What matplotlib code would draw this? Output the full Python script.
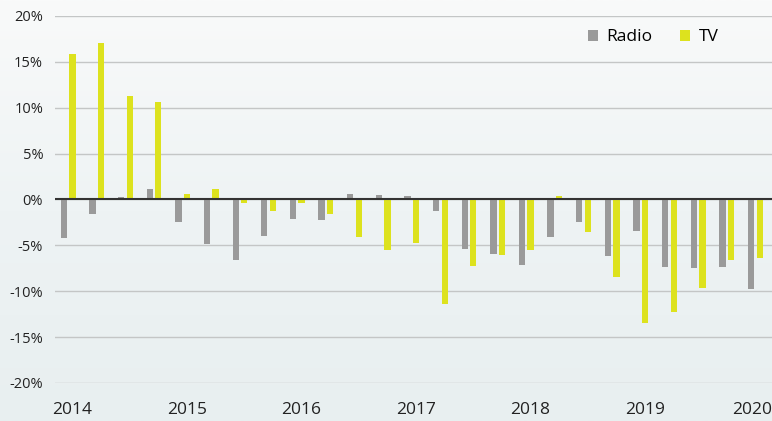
import matplotlib
matplotlib.use('Agg')
import matplotlib.pyplot as plt
import matplotlib.transforms as mtransforms
from matplotlib import font_manager
import numpy as np

# Open Sans, static regular cut
reg = [f.fname for f in font_manager.fontManager.ttflist if f.fname.endswith('OpenSans-Regular.ttf')]
if reg:
    font_manager.fontManager.addfont(reg[0])
    fp = font_manager.FontProperties(fname=reg[0])
else:
    fp = font_manager.FontProperties(family='Open Sans')
plt.rcParams['font.family'] = [fp.get_name(), 'DejaVu Sans']

# quarterly change, 2014 Q1 .. 2020 Q1
quarters = ['2014Q1', '2014Q2', '2014Q3', '2014Q4',
            '2015Q1', '2015Q2', '2015Q3', '2015Q4',
            '2016Q1', '2016Q2', '2016Q3', '2016Q4',
            '2017Q1', '2017Q2', '2017Q3', '2017Q4',
            '2018Q1', '2018Q2', '2018Q3', '2018Q4',
            '2019Q1', '2019Q2', '2019Q3', '2019Q4',
            '2020Q1']
radio = [-4.2, -1.6, 0.25, 1.1,
         -2.5, -4.9, -6.6, -4.0,
         -2.1, -2.2, 0.6, 0.45,
         0.4, -1.3, -5.4, -5.9,
         -7.1, -4.1, -2.5, -6.2,
         -3.4, -7.4, -7.5, -7.4,
         -9.8]
tv = [15.9, 17.1, 11.3, 10.6,
      0.55, 1.1, -0.4, -1.2,
      -0.35, -1.6, -4.1, -5.5,
      -4.7, -11.4, -7.3, -6.0,
      -5.5, 0.4, -3.5, -8.4,
      -13.5, -12.3, -9.7, -6.6,
      -6.4]
years = ['2014', '2015', '2016', '2017', '2018', '2019', '2020']
y_ticks = [20, 15, 10, 5, 0, -5, -10, -15, -20]

fig = plt.figure(figsize=(7.72, 4.21), dpi=100)

# faded background
bg = fig.add_axes([0, 0, 1, 1], zorder=-1)
grad = np.linspace(0, 1, 256).reshape(-1, 1)
cmap = matplotlib.colors.LinearSegmentedColormap.from_list(
    'bg', ['#f9fafa', '#eef3f4', '#e8eff0'])
bg.imshow(grad, aspect='auto', cmap=cmap, extent=[0, 1, 0, 1])
bg.axis('off')

ax = fig.add_axes([0.0712, 0.0903, 0.9288, 0.8717])
ax.patch.set_alpha(0)

x = np.arange(len(quarters))
w = 0.22
ax.bar(x - 0.15, radio, width=w, color='#9a9a9a', label='Radio', zorder=3)
ax.bar(x + 0.15, tv, width=w, color='#dde21e', label='TV', zorder=3)

ax.set_ylim(-20, 20)
ax.set_xlim(-0.46, 24.58)
ax.set_yticks(y_ticks)
ax.set_yticklabels([f'{v}%' for v in y_ticks], fontsize=10.5, color='#222222')
ax.yaxis.grid(True, color='#c4c6c6', linewidth=1)
ax.axhline(0, color='#333333', linewidth=1.5, zorder=4)

ax.set_xticks(x[::4] + 0.15)
ax.set_xticklabels(years, fontsize=12.5, color='#222222')
ax.tick_params(length=0)
ax.tick_params(axis='x', pad=14)
ax.tick_params(axis='y', pad=8.5)
last = ax.get_xticklabels()[-1]
last.set_transform(last.get_transform() + mtransforms.ScaledTranslation(-8 / 100, 0, fig.dpi_scale_trans))

for s in ax.spines.values():
    s.set_visible(False)

ax.legend(loc='upper right', bbox_to_anchor=(0.947, 1.006), ncol=2, frameon=False,
          fontsize=12.5, handlelength=0.55, handleheight=0.55, handletextpad=0.5,
          columnspacing=1.6)

fig.savefig('out.png', dpi=100)
